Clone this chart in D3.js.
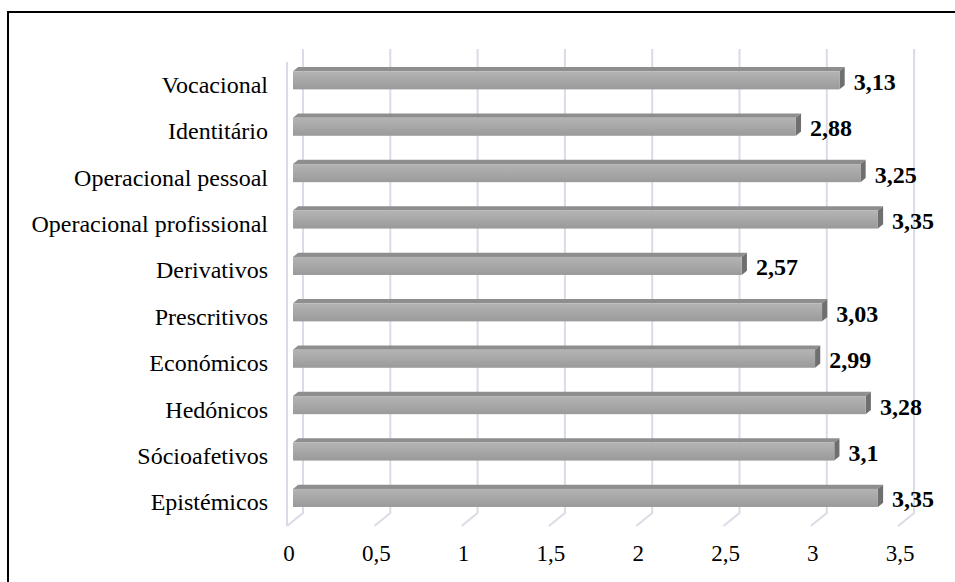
<!DOCTYPE html>
<html>
<head>
<meta charset="utf-8">
<script src="https://cdn.jsdelivr.net/npm/d3@7"></script>
<style>
  html, body { margin: 0; padding: 0; background: #fff; }
  svg { display: block; }
</style>
</head>
<body>
<svg id="chart" width="955" height="582"></svg>
<script>
// Mean scores per dimension (top to bottom)
const categories = [
  "Vocacional", "Identitário", "Operacional pessoal", "Operacional profissional",
  "Derivativos", "Prescritivos", "Económicos", "Hedónicos", "Sócioafetivos", "Epistémicos"
];
const values = [3.13, 2.88, 3.25, 3.35, 2.57, 3.03, 2.99, 3.28, 3.1, 3.35];
const tickValues = [0, 0.5, 1, 1.5, 2, 2.5, 3, 3.5];
const tickLabels = ["0", "0,5", "1", "1,5", "2", "2,5", "3", "3,5"];

const FONT = "'Liberation Serif', 'Times New Roman', Times, serif";

const svg = d3.select("#chart");
const W = 955, H = 582;

// 3D projection: front plane coordinates plus a depth offset
const depth = { dx: 16, dy: -13 };
const proj = (x, y, t) => [x + depth.dx * t, y + depth.dy * t];

const x = d3.scaleLinear().domain([0, 3.5]).range([287, 287 + 3.5 * 174.6]);
const y = d3.scaleBand().domain(categories).range([62, 526]).padding(0);

const yTop = y.range()[0], yBot = y.range()[1];

// chart frame
svg.append("rect")
  .attr("x", 8).attr("y", 12).attr("width", W + 20).attr("height", H + 20)
  .attr("fill", "none").attr("stroke", "#000").attr("stroke-width", 2);

const grid = svg.append("g").attr("stroke", "#d9dce6").attr("stroke-width", 2).attr("fill", "none");

// left wall front edge
grid.append("line")
  .attr("x1", x(0)).attr("x2", x(0))
  .attr("y1", yTop).attr("y2", yBot);

// back-wall gridlines and floor diagonals
tickValues.forEach(v => {
  const [bx, byTop] = proj(x(v), yTop, 1);
  const [, byBot] = proj(x(v), yBot, 1);
  grid.append("path")
    .attr("d", `M${bx},${byTop} L${bx},${byBot} L${x(v)},${yBot}`);
});

// gradient for bar front faces
const defs = svg.append("defs");
const grad = defs.append("linearGradient").attr("id", "barFront")
  .attr("x1", 0).attr("y1", 0).attr("x2", 0).attr("y2", 1);
grad.append("stop").attr("offset", "0%").attr("stop-color", "#b4b4b4");
grad.append("stop").attr("offset", "100%").attr("stop-color", "#9a9a9a");

const tFront = 0.375, tBack = 0.7;
const barFrac = 0.39;

const bars = svg.append("g");
categories.forEach((c, i) => {
  const v = values[i];
  const cy = y(c) + y.bandwidth() / 2;
  const h = y.bandwidth() * barFrac;
  const y0 = cy - h / 2, y1 = cy + h / 2;
  const [fx0, fy0] = proj(x(0), y0, tFront);
  const [fx1, fy1] = proj(x(v), y1, tFront);
  const [bx0, by0] = proj(x(0), y0, tBack);
  const [bx1, by1] = proj(x(v), y1, tBack);
  const g = bars.append("g");
  // top face
  g.append("path")
    .attr("d", `M${fx0},${fy0} L${fx1},${fy0} L${bx1},${by0} L${bx0},${by0} Z`)
    .attr("fill", "#8e8e8e");
  // end face
  g.append("path")
    .attr("d", `M${fx1},${fy0} L${bx1},${by0} L${bx1},${by1} L${fx1},${fy1} Z`)
    .attr("fill", "#6f6f6f");
  // front face
  g.append("rect")
    .attr("x", fx0).attr("y", fy0)
    .attr("width", fx1 - fx0).attr("height", fy1 - fy0)
    .attr("fill", "url(#barFront)");
  // value label
  g.append("text")
    .attr("x", bx1 + 9)
    .attr("y", (fy0 + fy1) / 2 + 9.5)
    .attr("font-family", FONT)
    .attr("font-size", 24).attr("font-weight", "bold")
    .text(String(v).replace(".", ","));
});

// category labels
svg.append("g").selectAll("text").data(categories).join("text")
  .attr("x", 268)
  .attr("y", d => y(d) + y.bandwidth() / 2 + 7.5)
  .attr("text-anchor", "end")
  .attr("font-family", FONT)
  .attr("font-size", 24)
  .text(d => d);

// value axis labels
svg.append("g").selectAll("text").data(tickValues).join("text")
  .attr("x", d => x(d) + 2)
  .attr("y", 561)
  .attr("text-anchor", "middle")
  .attr("font-family", FONT)
  .attr("font-size", 23)
  .text((d, i) => tickLabels[i]);
</script>
</body>
</html>
